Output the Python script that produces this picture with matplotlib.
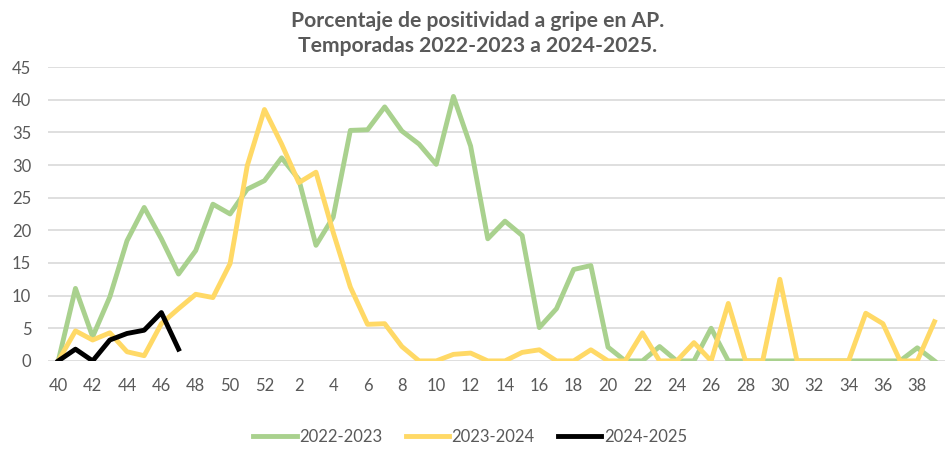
import numpy as np
import matplotlib
matplotlib.use('Agg')
import matplotlib.pyplot as plt

plt.rcParams['font.family'] = ['Lato', 'DejaVu Sans']

# semanas epidemiologicas: 40..52 y 1..39
weeks = list(range(40, 53)) + list(range(1, 40))

s2022 = [0, 11.1, 3.7, 9.8, 18.4, 23.5, 18.7, 13.3, 16.9, 24.0, 22.5, 26.3, 27.6,
         31.1, 27.8, 17.7, 22.0, 35.3, 35.4, 38.9, 35.2, 33.2, 30.1, 40.5, 32.9, 18.7,
         21.4, 19.2, 5.1, 8.0, 14.0, 14.6, 2.1, 0, 0, 2.2, 0, 0, 5.0, 0,
         0, 0, 0, 0, 0, 0, 0, 0, 0, 0, 2.0, 0]
s2023 = [0, 4.6, 3.2, 4.3, 1.4, 0.8, 5.7, 8.0, 10.2, 9.7, 14.9, 29.9, 38.5,
         33.2, 27.3, 28.9, 19.7, 11.3, 5.6, 5.7, 2.2, 0, 0, 1.0, 1.2, 0,
         0, 1.3, 1.7, 0, 0, 1.7, 0, 0, 4.3, 0, 0, 2.8, 0, 8.8,
         0, 0, 12.5, 0, 0, 0, 0, 7.3, 5.7, 0, 0, 6.0]
s2024 = [0, 1.8, 0, 3.2, 4.2, 4.7, 7.4, 1.8]

xticklabels = [str(w) if i % 2 == 0 else '' for i, w in enumerate(weeks)]

fig = plt.figure(figsize=(9.5, 4.5), dpi=100)
ax = fig.add_axes([0.0505, 0.198, 0.944, 0.653])

x = np.arange(len(weeks))
ax.plot(x, s2022, color='#A9D18E', lw=3.5, label='2022-2023', solid_joinstyle='round')
ax.plot(x, s2023, color='#FFD966', lw=3.5, label='2023-2024', solid_joinstyle='round')
ax.plot(np.arange(len(s2024)), s2024, color='#000000', lw=3.5, label='2024-2025',
        solid_joinstyle='round')

ax.set_ylim(0, 45)
ax.set_yticks(range(0, 46, 5))
ax.set_xlim(-0.6, len(weeks) - 0.4)
ax.set_xticks(x)
ax.set_xticklabels(xticklabels)
ax.grid(axis='y', color='#D9D9D9', lw=1.2)
ax.set_axisbelow(True)
for sp in ax.spines.values():
    sp.set_visible(False)
ax.tick_params(axis='both', length=0, labelsize=12, colors='#595959')
ax.tick_params(axis='x', pad=12)
ax.tick_params(axis='y', pad=12)

fig.suptitle('Porcentaje de positividad a gripe en AP.\nTemporadas 2022-2023 a 2024-2025.',
             x=0.503, y=0.975, fontsize=15.2, fontweight='bold', color='#595959',
             linespacing=1.3)

fig.legend(loc='center', bbox_to_anchor=(0.495, 0.03), ncol=3, frameon=False,
           fontsize=12, labelcolor='#595959', handlelength=2.6, handletextpad=0.15,
           columnspacing=1.4)

fig.savefig('out.png', dpi=100)
